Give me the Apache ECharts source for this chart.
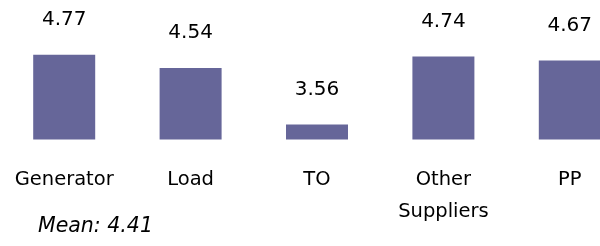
<!DOCTYPE html>
<html>
<head>
    <meta charset="UTF-8">
    <title>bar chart</title>
    <script type="text/javascript" src="https://cdn.jsdelivr.net/npm/echarts@6/dist/echarts.min.js"></script>
    <style>
        body,html{
            margin: 0;
            width: 100%;
            height: 100%;
            background: #fff;
        }
        #bar{
            width: 600px;
            height: 246px;
        }
    </style>
</head>
<body>
<div id="bar"></div>
<script>
    // data
    var categories = ['Generator', 'Load', 'TO', 'Other\nSuppliers', 'PP'];
    var scores = [4.77, 4.54, 3.56, 4.74, 4.67];
    var meanValue = 4.41;

    var chart = echarts.init(document.getElementById('bar'));
    var font = 'DejaVu Sans';

    var option = {
        animation: false,
        title: {
            text: 'Mean: ' + meanValue.toFixed(2),
            left: 38,
            top: 217,
            padding: 0,
            textStyle: {
                fontFamily: font,
                fontSize: 20.5,
                fontStyle: 'italic',
                fontWeight: 'normal',
                color: '#000'
            }
        },
        grid: {
            left: 1,
            width: 632,
            top: 41.5,
            bottom: 106.5,
            outerBoundsMode: 'none',
            containLabel: false
        },
        xAxis: {
            type: 'category',
            data: categories,
            axisLine: {show: false},
            axisTick: {show: false},
            axisLabel: {
                interval: 0,
                margin: 24,
                fontFamily: font,
                fontSize: 19.5,
                lineHeight: 32,
                color: '#000'
            }
        },
        yAxis: {
            type: 'value',
            min: 3.3,
            max: 5,
            show: false
        },
        series: [
            {
                type: 'bar',
                data: scores,
                barWidth: 62,
                itemStyle: {color: '#666699'},
                label: {
                    show: true,
                    position: 'top',
                    distance: 25,
                    fontFamily: font,
                    fontSize: 20,
                    color: '#000',
                    formatter: function (p) { return p.value.toFixed(2); }
                }
            }
        ]
    };

    chart.setOption(option);
</script>
</body>
</html>
